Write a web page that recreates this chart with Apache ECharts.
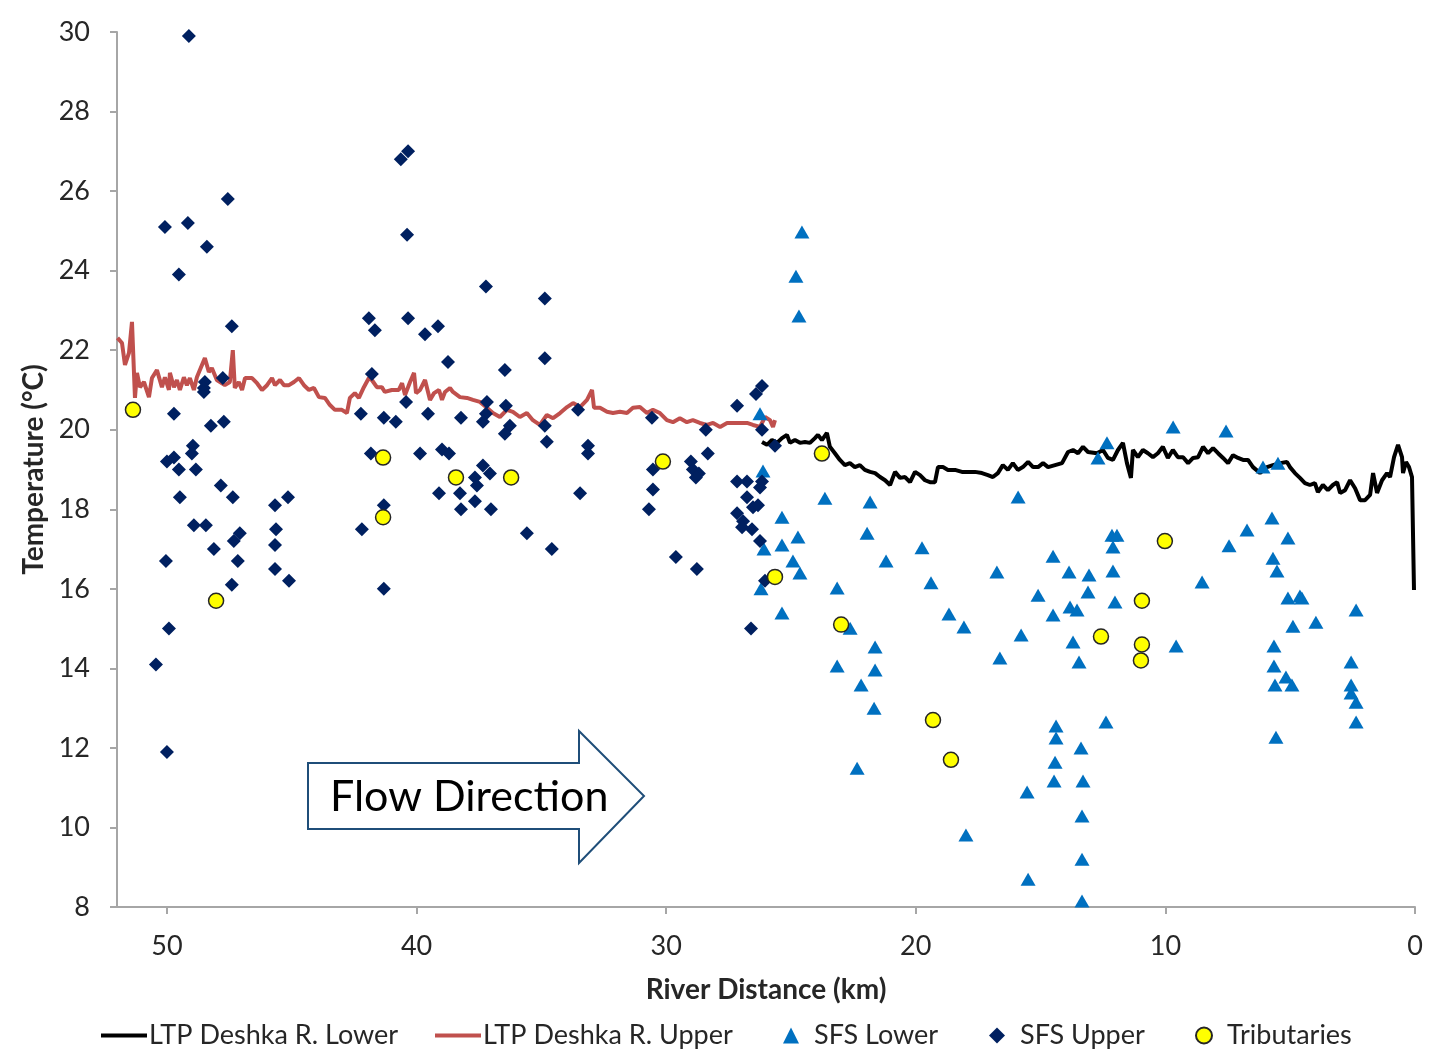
<!DOCTYPE html>
<html><head><meta charset="utf-8">
<script src="https://cdn.jsdelivr.net/npm/echarts@6/dist/echarts.min.js"></script>
<style>html,body{margin:0;padding:0;background:#fff}#c{width:1435px;height:1051px}</style>
</head><body><div id="c"></div>
<script>
// River distance (km) / temperature (°C) pairs
const ltpUpper = [[51.98,22.31],[51.80,22.18],[51.68,21.63],[51.52,21.93],[51.40,22.71],[51.28,20.80],[51.20,21.43],[51.08,21.07],[50.92,21.20],[50.72,20.82],[50.60,21.30],[50.40,21.50],[50.20,21.07],[50.08,21.32],[49.92,21.00],[49.88,21.43],[49.72,21.07],[49.60,21.25],[49.48,21.00],[49.32,21.32],[49.20,21.12],[49.08,21.30],[48.92,21.00],[48.80,21.32],[48.68,21.50],[48.48,21.80],[48.32,21.45],[48.20,21.55],[48.00,21.25],[47.68,21.12],[47.48,21.20],[47.36,22.00],[47.28,21.05],[47.12,21.20],[46.99,21.00],[46.87,21.30],[46.59,21.30],[46.39,21.17],[46.19,21.00],[45.99,21.12],[45.79,21.30],[45.67,21.12],[45.47,21.25],[45.31,21.12],[45.11,21.12],[44.91,21.20],[44.71,21.30],[44.51,21.12],[44.31,21.00],[44.11,21.05],[43.91,20.82],[43.67,20.80],[43.47,20.62],[43.27,20.50],[42.99,20.50],[42.79,20.42],[42.67,20.80],[42.47,20.92],[42.31,20.80],[42.11,21.07],[41.91,21.30],[41.79,21.25],[41.59,21.07],[41.39,21.07],[41.27,20.95],[40.99,21.00],[40.71,21.00],[40.58,21.17],[40.46,20.87],[40.26,21.20],[40.10,21.43],[40.02,20.92],[39.86,21.00],[39.66,21.25],[39.46,20.75],[39.30,20.92],[39.10,21.00],[38.98,20.75],[38.86,20.95],[38.66,21.05],[38.54,20.95],[38.26,20.82],[37.98,20.80],[37.74,20.75],[37.46,20.70],[37.18,20.55],[36.94,20.42],[36.66,20.32],[36.38,20.50],[36.14,20.45],[35.86,20.32],[35.58,20.42],[35.34,20.24],[35.06,20.12],[34.78,20.37],[34.53,20.29],[34.25,20.42],[33.97,20.57],[33.73,20.67],[33.45,20.57],[33.17,20.75],[32.97,21.00],[32.89,20.55],[32.65,20.55],[32.37,20.45],[32.13,20.42],[31.85,20.45],[31.57,20.42],[31.33,20.55],[31.05,20.57],[30.77,20.42],[30.53,20.50],[30.25,20.42],[29.97,20.24],[29.73,20.19],[29.45,20.29],[29.17,20.19],[28.93,20.24],[28.65,20.17],[28.36,20.12],[28.12,20.17],[27.84,20.07],[27.56,20.17],[27.32,20.17],[27.04,20.17],[26.76,20.17],[26.52,20.12],[26.24,20.07],[26.04,20.32],[25.84,20.24],[25.72,20.07],[25.64,20.24]];

const ltpLower = [[26.16,19.69],[25.96,19.62],[25.76,19.74],[25.56,19.67],[25.36,19.79],[25.16,19.87],[25.04,19.67],[24.84,19.74],[24.64,19.67],[24.44,19.69],[24.24,19.67],[24.04,19.79],[23.92,19.87],[23.76,19.74],[23.56,19.92],[23.44,19.57],[23.24,19.41],[23.04,19.24],[22.84,19.11],[22.64,19.16],[22.44,19.06],[22.24,19.11],[22.04,18.99],[21.83,18.94],[21.63,18.91],[21.43,18.81],[21.23,18.73],[21.03,18.61],[20.83,18.94],[20.63,18.79],[20.43,18.81],[20.23,18.68],[20.03,18.94],[19.83,18.86],[19.63,18.73],[19.43,18.68],[19.23,18.68],[19.11,19.06],[18.91,19.06],[18.71,18.99],[18.43,18.99],[18.15,18.94],[17.91,18.94],[17.63,18.94],[17.35,18.91],[17.11,18.86],[16.91,18.81],[16.71,18.91],[16.51,19.11],[16.31,18.99],[16.11,19.16],[15.91,18.99],[15.71,19.06],[15.50,19.19],[15.30,19.06],[15.10,19.06],[14.90,19.16],[14.70,19.06],[14.42,19.11],[14.14,19.16],[13.90,19.44],[13.70,19.49],[13.50,19.41],[13.30,19.57],[13.10,19.44],[12.74,19.41],[12.50,19.49],[12.30,19.29],[12.10,19.24],[11.90,19.49],[11.70,19.67],[11.54,19.16],[11.38,18.79],[11.30,19.49],[11.10,19.31],[10.90,19.49],[10.70,19.41],[10.50,19.31],[10.30,19.41],[10.10,19.57],[9.90,19.29],[9.70,19.49],[9.50,19.31],[9.29,19.31],[9.09,19.16],[8.89,19.29],[8.69,19.31],[8.49,19.57],[8.29,19.41],[8.09,19.54],[7.89,19.41],[7.69,19.29],[7.49,19.16],[7.29,19.36],[7.09,19.29],[6.89,19.24],[6.69,19.24],[6.49,19.06],[6.21,18.91],[5.93,19.06],[5.69,19.11],[5.41,19.16],[5.13,19.19],[5.01,19.06],[4.81,18.91],[4.61,18.79],[4.41,18.66],[4.21,18.61],[4.01,18.66],[3.89,18.43],[3.69,18.61],[3.49,18.48],[3.29,18.61],[3.12,18.68],[3.00,18.41],[2.80,18.48],[2.60,18.73],[2.40,18.53],[2.20,18.23],[2.00,18.23],[1.80,18.36],[1.68,18.91],[1.52,18.41],[1.32,18.73],[1.12,18.91],[1.00,18.81],[0.84,19.31],[0.68,19.62],[0.52,19.31],[0.48,18.91],[0.36,19.19],[0.24,19.06],[0.12,18.81],[0.04,15.97]];

const sfsLower = [[24.56,24.97],[24.80,23.86],[24.68,22.86],[26.24,20.4],[26.12,18.96],[23.64,18.28],[21.83,18.18],[25.36,17.8],[24.72,17.3],[21.95,17.4],[25.36,17.1],[26.08,17.0],[21.19,16.7],[24.92,16.7],[24.64,16.4],[23.15,16.02],[26.20,16.0],[25.36,15.39],[22.63,15.01],[21.63,14.54],[15.90,18.31],[19.75,17.03],[16.75,16.42],[14.50,16.82],[13.86,16.42],[13.06,16.35],[19.39,16.15],[13.10,15.92],[15.10,15.84],[13.82,15.54],[13.54,15.47],[14.50,15.34],[18.67,15.37],[18.07,15.04],[15.78,14.84],[13.70,14.66],[16.63,14.26],[23.15,14.06],[13.46,14.16],[21.63,13.96],[22.19,13.58],[21.67,13.0],[14.38,12.55],[14.38,12.25],[13.38,12.0],[14.42,11.64],[14.46,11.17],[13.30,11.17],[22.35,11.49],[15.54,10.89],[13.34,10.29],[17.99,9.81],[13.34,9.2],[15.50,8.7],[13.34,8.15],[9.69,20.07],[7.57,19.97],[12.34,19.67],[12.70,19.29],[6.09,19.06],[5.49,19.16],[5.73,17.78],[6.73,17.48],[5.09,17.28],[12.14,17.35],[11.94,17.35],[12.10,17.05],[7.45,17.08],[5.69,16.77],[5.53,16.45],[12.10,16.45],[8.53,16.17],[5.09,15.77],[4.61,15.82],[4.53,15.77],[12.02,15.67],[2.36,15.47],[4.89,15.06],[3.97,15.16],[9.57,14.56],[5.65,14.56],[5.65,14.06],[2.56,14.16],[5.17,13.78],[5.61,13.58],[4.93,13.58],[2.56,13.58],[2.56,13.38],[2.36,13.15],[2.36,12.65],[5.57,12.27],[12.38,12.65]];

const sfsUpper = [[49.12,29.9],[50.08,25.1],[49.16,25.2],[49.52,23.9],[48.40,24.6],[47.56,25.8],[47.40,22.6],[49.72,20.4],[48.48,21.2],[48.52,21.05],[48.52,20.95],[47.76,21.3],[48.24,20.1],[47.72,20.2],[50.0,19.2],[49.72,19.3],[48.96,19.6],[49.0,19.4],[49.52,19.0],[48.84,19.0],[47.84,18.6],[47.36,18.3],[49.48,18.3],[48.92,17.6],[48.44,17.6],[48.12,17.0],[47.08,17.4],[47.32,17.2],[47.16,16.7],[50.04,16.7],[47.40,16.1],[45.67,18.1],[45.15,18.3],[45.63,17.5],[45.67,17.1],[45.67,16.5],[45.11,16.2],[49.92,15.0],[50.44,14.1],[50.0,11.9],[41.91,22.8],[41.67,22.5],[40.34,22.8],[39.66,22.4],[39.14,22.6],[40.34,27.0],[40.63,26.8],[40.38,24.9],[41.79,21.4],[42.23,20.4],[41.31,20.3],[40.83,20.2],[40.42,20.7],[39.54,20.4],[41.83,19.4],[39.86,19.4],[41.31,18.1],[42.19,17.5],[41.31,16.0],[38.74,21.7],[34.86,23.3],[34.86,21.8],[36.46,21.5],[37.22,23.6],[38.22,20.3],[37.18,20.7],[37.22,20.4],[37.34,20.2],[36.42,20.6],[36.26,20.1],[36.46,19.9],[34.86,20.1],[34.78,19.7],[33.53,20.5],[33.13,19.6],[33.13,19.4],[38.98,19.5],[38.70,19.4],[37.34,19.1],[37.06,18.9],[37.66,18.8],[37.58,18.6],[39.10,18.4],[38.26,18.4],[37.66,18.2],[38.22,18.0],[37.02,18.0],[33.45,18.4],[35.58,17.4],[34.58,17.0],[30.57,20.3],[28.41,20.0],[28.33,19.4],[29.01,19.2],[28.93,19.0],[28.69,18.9],[28.81,18.8],[30.53,19.0],[30.53,18.5],[30.69,18.0],[29.61,16.8],[28.77,16.5],[27.16,20.6],[26.16,21.1],[26.40,20.9],[26.16,20.0],[25.64,19.6],[27.16,18.7],[26.76,18.7],[26.24,18.55],[26.16,18.7],[26.76,18.3],[26.52,18.05],[26.32,18.1],[27.16,17.9],[26.92,17.7],[26.96,17.55],[26.56,17.5],[26.24,17.2],[26.04,16.2],[26.60,15.0]];

const tributaries = [[51.36,20.5],[48.03,15.7],[41.34,19.3],[41.34,17.8],[38.42,18.8],[36.21,18.8],[30.13,19.2],[25.64,16.3],[23.76,19.4],[22.99,15.1],[19.31,12.7],[18.59,11.7],[12.58,14.8],[10.94,15.7],[10.94,14.6],[10.98,14.2],[10.02,17.2]];

const seriesNames = ['LTP Deshka R. Lower','LTP Deshka R. Upper','SFS Lower','SFS Upper','Tributaries'];
const xTitle = 'River Distance (km)';
const yTitle = 'Temperature (°C)';
const annotation = 'Flow Direction';

const FONT = 'Lato';
const TXT = '#262626';
const legendBase = {top: 1017, itemHeight: 14, textStyle: {fontFamily: FONT, fontSize: 27, color: TXT}};
function lineLegend(name, left) {
  return Object.assign({}, legendBase, {data: [{name: name, icon: 'rect'}], left: left, itemWidth: 46, itemHeight: 4,
    textStyle: {fontFamily: FONT, fontSize: 27, color: TXT, padding: [0,0,0,-3]}});
}
function symLegend(name, left) {
  return Object.assign({}, legendBase, {data: [name], left: left, itemWidth: 16, itemHeight: 16,
    textStyle: {fontFamily: FONT, fontSize: 27, color: TXT, padding: [0,0,0,10]}});
}

const chart = echarts.init(document.getElementById('c'));
chart.setOption({
  backgroundColor: '#fff',
  animation: false,
  textStyle: {fontFamily: FONT},
  grid: {left: 117, right: 20, top: 32, bottom: 144, containLabel: false},
  xAxis: {
    type: 'value', min: 0, max: 52, interval: 10, inverse: true,
    name: xTitle, nameLocation: 'middle', nameGap: 69,
    nameTextStyle: {fontFamily: FONT, fontSize: 28, fontWeight: 'bold', color: TXT},
    axisLine: {show: true, onZero: false, lineStyle: {color: '#a6a6a6', width: 2}},
    axisTick: {show: true, length: 7, lineStyle: {color: '#a6a6a6', width: 2}},
    axisLabel: {fontSize: 27, color: TXT, margin: 26, showMaxLabel: false},
    splitLine: {show: false}
  },
  yAxis: {
    type: 'value', min: 8, max: 30, interval: 2, position: 'left',
    name: yTitle, nameLocation: 'middle', nameGap: 68,
    nameTextStyle: {fontFamily: FONT, fontSize: 28, fontWeight: 'bold', color: TXT},
    axisLine: {show: true, onZero: false, lineStyle: {color: '#a6a6a6', width: 2}},
    axisTick: {show: true, length: 7, lineStyle: {color: '#a6a6a6', width: 2}},
    axisLabel: {fontSize: 27, color: TXT, margin: 27},
    splitLine: {show: false}
  },
  legend: [
    lineLegend(seriesNames[0], 96),
    lineLegend(seriesNames[1], 430),
    symLegend(seriesNames[2], 778),
    symLegend(seriesNames[3], 984),
    symLegend(seriesNames[4], 1190)
  ],
  graphic: [{
    type: 'group', left: 307, top: 730, z: 10,
    children: [
      {type: 'polygon', shape: {points: [[0,32],[271,32],[271,0],[336,65],[271,132],[271,98],[0,98]]},
       style: {fill: '#fff', stroke: '#1f4e79', lineWidth: 2}},
      {type: 'text', style: {text: annotation, x: 22, y: 66, fontSize: 43, fontFamily: FONT, fill: '#000', verticalAlign: 'middle'}}
    ]
  }],
  series: [
    {name: seriesNames[0], type: 'line', data: ltpLower, showSymbol: false, symbol: 'none',
     lineStyle: {color: '#000', width: 4}, itemStyle: {color: '#000'}, z: 2},
    {name: seriesNames[1], type: 'line', data: ltpUpper, showSymbol: false, symbol: 'none',
     lineStyle: {color: '#c0504d', width: 4}, itemStyle: {color: '#c0504d'}, z: 2},
    {name: seriesNames[2], type: 'scatter', data: sfsLower, symbol: 'triangle', symbolSize: [15, 13],
     itemStyle: {color: '#0070c0', opacity: 1}, z: 3},
    {name: seriesNames[3], type: 'scatter', data: sfsUpper, symbol: 'diamond', symbolSize: 14,
     itemStyle: {color: '#002060', opacity: 1}, z: 4},
    {name: seriesNames[4], type: 'scatter', data: tributaries, symbol: 'circle', symbolSize: 15,
     itemStyle: {color: '#ffff00', borderColor: '#262626', borderWidth: 1.5, opacity: 1}, z: 5}
  ]
});
</script></body></html>
